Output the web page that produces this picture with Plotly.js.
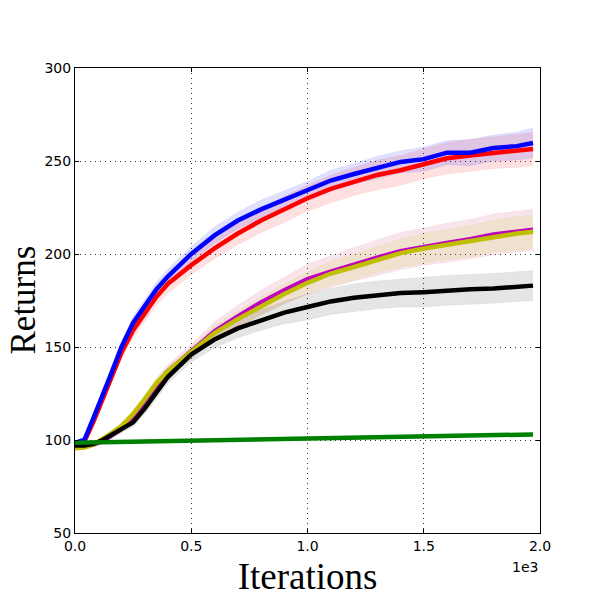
<!DOCTYPE html>
<html>
<head>
<meta charset="utf-8">
<script src="https://cdn.plot.ly/plotly-3.0.1.min.js"></script>
<style>
  html, body { margin: 0; padding: 0; background: #fff; }
  #chart { width: 600px; height: 600px; }
</style>
</head>
<body>
<div id="chart"></div>
<script>
// iterations (x axis shows them in units of 1e3)
let iters = [0, 40, 80, 120, 160, 200, 250, 300, 350, 400, 500, 600, 700, 800, 900, 1000,
  1100, 1200, 1300, 1400, 1500, 1600, 1700, 1800, 1900, 1970];

let blue_mean = [98.5, 100, 112, 124, 137, 150, 163, 172, 181, 188, 200, 210, 218, 224, 229, 234,
  239.5, 243, 246.5, 249.5, 251, 254.5, 254.5, 257, 258, 259.7];
let red_mean = [98, 99, 110, 122, 134, 147, 159, 168, 177, 184, 194, 203, 211, 218, 224, 230,
  235, 239, 242.5, 245, 248.5, 251.5, 253, 254.5, 255.5, 256.5];
let magenta_mean = [96, 96.5, 97.5, 99.5, 102.5, 106, 112, 120, 129.5, 137, 147.5, 158.5, 166.5, 174, 180.5, 186.5,
  190.5, 194.5, 198, 201.5, 204, 206, 208, 210.5, 212, 213];
let yellow_mean = [95.5, 96, 97.5, 100.5, 104, 107.5, 114, 122, 130.5, 137, 147, 157.5, 165, 172, 178.5, 184.5,
  189.5, 193, 197, 200.5, 203, 205, 207, 209.5, 211, 212];
let black_mean = [97, 97, 98, 100, 103, 106, 109.5, 117, 125.5, 134, 146, 154, 160, 164.5, 168.5, 171.5,
  174.5, 176.5, 178, 179, 179.5, 180.5, 181, 181.5, 182.5, 183];
let green_mean = [98.5, 98.6, 98.7, 98.8, 98.9, 99, 99.1, 99.2, 99.3, 99.4, 99.6, 99.8, 100, 100.2, 100.5, 100.8,
  101, 101.2, 101.4, 101.7, 102, 102.2, 102.4, 102.6, 102.8, 103];

// half width of the shaded bands
let blue_spread = [1, 1.5, 2, 2.5, 3, 3, 3.5, 3.5, 4, 4, 4, 4.5, 4.5, 5, 5, 5,
  5.5, 5.5, 6, 6, 6.5, 6.5, 7, 7, 7.5, 8];
let red_spread = [1, 1.5, 2, 2.5, 3, 3.5, 4, 4, 4.5, 5, 5, 5.5, 6, 6.5, 7, 7,
  7.5, 7.5, 8, 8, 8, 8.5, 8.5, 8.5, 9, 9];
let magenta_spread = [1, 1, 1, 1.5, 2, 2, 2.5, 3, 3.5, 3.5, 4, 5, 6, 6.5, 7, 8,
  8.5, 9, 9.5, 10, 10, 10.5, 10.5, 11, 11, 11];
let yellow_spread = [1, 1, 1, 1.5, 1.5, 2, 2, 2.5, 3, 3, 3, 4, 4.5, 5, 5.5, 6,
  6.5, 7, 7, 7.5, 8, 8, 8.5, 8.5, 9, 9];
let black_spread = [1, 1, 1, 1.5, 2, 2, 2.5, 3, 3.5, 3.5, 4, 4.5, 5, 5.5, 6, 7,
  7, 7.5, 7.5, 7.5, 8, 8, 8, 8, 8, 8];
let green_spread = [0.8, 0.8, 0.8, 0.8, 0.8, 0.8, 0.8, 0.8, 0.8, 0.8, 0.8, 0.8, 0.8, 0.8, 0.8, 0.8,
  0.8, 0.8, 0.8, 0.8, 0.8, 0.8, 0.8, 0.8, 0.8, 0.8];

let x_ticks = [0, 500, 1000, 1500, 2000];
let x_tick_labels = ["0.0", "0.5", "1.0", "1.5", "2.0"];
let y_ticks = [50, 100, 150, 200, 250, 300];

let series = [
  { name: "red", mean: red_mean, spread: red_spread, color: "#ff0000", fill: "rgba(255,0,0,0.12)" },
  { name: "blue", mean: blue_mean, spread: blue_spread, color: "#0000ff", fill: "rgba(0,0,255,0.12)" },
  { name: "magenta", mean: magenta_mean, spread: magenta_spread, color: "#bf00bf", fill: "rgba(191,0,60,0.1)" },
  { name: "yellow", mean: yellow_mean, spread: yellow_spread, color: "#bfbf00", fill: "rgba(191,191,0,0.12)" },
  { name: "black", mean: black_mean, spread: black_spread, color: "#000000", fill: "rgba(0,0,0,0.1)" },
  { name: "green", mean: green_mean, spread: green_spread, color: "#008000", fill: "rgba(0,128,0,0.15)" },
];

let data = [];
// bands first so every line sits on top
series.forEach(s => {
  data.push({
    x: iters, y: s.mean.map((v, i) => v + s.spread[i]),
    mode: "lines", line: { width: 0.5, color: s.fill }, hoverinfo: "skip", showlegend: false,
  });
  data.push({
    x: iters, y: s.mean.map((v, i) => v - s.spread[i]),
    mode: "lines", line: { width: 0.5, color: s.fill }, fill: "tonexty", fillcolor: s.fill,
    hoverinfo: "skip", showlegend: false,
  });
});
series.forEach(s => {
  data.push({
    x: iters, y: s.mean, name: s.name, type: "scatter", mode: "lines",
    line: { color: s.color, width: 4.5 }, showlegend: false,
  });
});

let axis_common = {
  showline: true, linecolor: "#000", linewidth: 1, mirror: "allticks",
  ticks: "inside", ticklen: 4, tickcolor: "#000",
  showgrid: true, gridcolor: "#333", gridwidth: 1, griddash: "1px,4px",
  zeroline: false,
  tickfont: { family: "DejaVu Sans", size: 14, color: "#000" },
};

let title_font = { family: "Liberation Serif", size: 37, color: "#000" };

let layout = {
  width: 600, height: 600,
  margin: { l: 75, r: 60, t: 68, b: 67 },
  paper_bgcolor: "#fff", plot_bgcolor: "#fff",
  showlegend: false,
  xaxis: Object.assign({}, axis_common, {
    range: [0, 2000], tickvals: x_ticks, ticktext: x_tick_labels,
    title: { text: "Iterations", font: title_font, standoff: 10 },
  }),
  yaxis: Object.assign({}, axis_common, {
    range: [50, 300], tickvals: y_ticks,
  }),
  annotations: [
    {
      text: "1e3", xref: "paper", yref: "paper", x: 1, y: -0.052,
      xanchor: "right", yanchor: "top", showarrow: false,
      font: { family: "DejaVu Sans", size: 14, color: "#000" },
    },
    {
      // y axis title, placed by hand so it can sit closer to the page edge
      text: "Returns", xref: "paper", yref: "paper", x: 0, y: 0.5, xshift: -52,
      xanchor: "center", yanchor: "middle", textangle: -90, showarrow: false,
      font: { family: "Liberation Serif", size: 35, color: "#000" },
    },
  ],
};

Plotly.newPlot("chart", data, layout, { displaylogo: false, displayModeBar: false });
</script>
</body>
</html>
